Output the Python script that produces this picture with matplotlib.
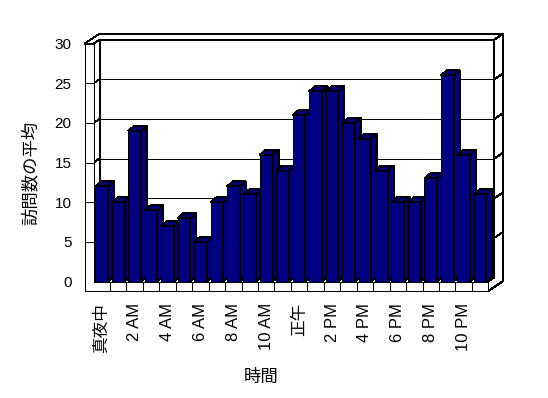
import numpy as np
import matplotlib
matplotlib.use("Agg")
import matplotlib.pyplot as plt
from matplotlib.patches import Polygon

plt.rcParams['font.family'] = ['Liberation Sans', 'Noto Sans CJK JP']

# data: average visits per hour
hours = ["真夜中", "1 AM", "2 AM", "3 AM", "4 AM", "5 AM", "6 AM", "7 AM",
         "8 AM", "9 AM", "10 AM", "11 AM", "正午", "1 PM", "2 PM", "3 PM",
         "4 PM", "5 PM", "6 PM", "7 PM", "8 PM", "9 PM", "10 PM", "11 PM"]
visits = [12, 10, 19, 9, 7, 8, 5, 10, 12, 11, 16, 14,
          21, 24, 24, 20, 18, 14, 10, 10, 13, 26, 16, 11]
y_ticks = [0, 5, 10, 15, 20, 25, 30]
y_title = "訪問数の平均"
x_title = "時間"

W, H = 548, 398
NAVY = "#000080"
LW = 0.72  # one pixel at 100 dpi

fig = plt.figure(figsize=(W / 100, H / 100), dpi=100)
fig.patch.set_facecolor("white")

# front plane of the 3d box, in pixels
x0, x1 = 93.5, 488.3
yb, yt = 281.5, 43.7
ax = fig.add_axes([x0 / W, (H - yb) / H, (x1 - x0) / W, (yb - yt) / H])
n = len(visits)
ax.set_xlim(-0.5, n - 0.5)
ax.set_ylim(0, 30)
for s in ax.spines.values():
    s.set_visible(False)
ax.set_facecolor("none")

# pixel -> data unit
ux = n / (x1 - x0)
uy = 30 / (yb - yt)
L, R = -0.5, n - 0.5
lw_wall = 9 * ux          # left wall thickness
ft = 9.5 * uy             # floor thickness


def P(x, y, z=0.0):
    # oblique projection, z=1 is the back wall inner face
    return (x + z * 6 * ux, y + z * 4 * uy)


def poly(pts, zo, fc="white"):
    ax.add_patch(Polygon(pts, closed=True, facecolor=fc, edgecolor="black",
                         linewidth=LW, clip_on=False, zorder=zo,
                         antialiased=False))


def line(a, b, zo):
    ax.plot([a[0], b[0]], [a[1], b[1]], color="black", lw=LW,
            clip_on=False, zorder=zo, antialiased=False)


Z2 = 2.4
# back wall inner face
poly([P(L, 0, 1), P(R, 0, 1), P(R, 30, 1), P(L, 30, 1)], 1)
# right side strip of back wall + floor side
poly([P(R, -ft, 0), P(R, 0, 0), P(R, 0, 1), P(R, 30, 1), P(R, 30, Z2),
      P(R, -ft, Z2)], 1)
# left wall inner face
poly([P(L, 0, 0), P(L, 30, 0), P(L, 30, 1), P(L, 0, 1)], 1)
# top face of walls
poly([P(L - lw_wall, 30, 0), P(L, 30, 0), P(L, 30, 1), P(R, 30, 1),
      P(R, 30, Z2), P(L - lw_wall, 30, Z2)], 1)

# gridlines wrapping round the walls
for v in y_ticks[1:-1]:
    line(P(L, v, 0), P(L, v, 1), 2)
    line(P(L, v, 1), P(R, v, 1), 2)
    line(P(R, v, 1), P(R, v, Z2), 2)

# bars
xs = np.arange(n)
bw = 0.77
bdx, bdy = 6 * ux, 5 * uy
bars = ax.bar(xs, visits, width=bw, color=NAVY, edgecolor="black",
              linewidth=LW, zorder=5)
for i, (b, v) in enumerate(zip(bars, visits)):
    b.set_zorder(10 + 2 * i)
    b.set_antialiased(False)
    l, r = i - bw / 2, i + bw / 2
    poly([(r, 0), (r, v), (r + bdx, v + bdy), (r + bdx, bdy)],
         11 + 2 * i, NAVY)
    poly([(l, v), (r, v), (r + bdx, v + bdy), (l + bdx, v + bdy)],
         11 + 2 * i, NAVY)

# front faces: left wall + floor (L-shape)
poly([(L - lw_wall, -ft), (R, -ft), (R, 0), (L, 0), (L, 30),
      (L - lw_wall, 30)], 100)
for v in y_ticks[1:-1]:
    line((L - lw_wall, v), (L, v), 101)
for k in range(1, n):
    line((k - 0.5, -ft), (k - 0.5, 0), 101)

# tick labels
ax.set_yticks(y_ticks)
ax.set_yticklabels([str(v) for v in y_ticks], fontsize=11)
ax.set_xticks(xs[::2])
ax.set_xticklabels(hours[::2], rotation=90, fontsize=12)
ax.tick_params(axis="y", length=0, pad=15.7)
ax.tick_params(axis="x", length=0, pad=15.5)

fig.text(30 / W, 1 - 173 / H, y_title, rotation=90, ha="center",
         va="center", fontsize=12.5)
fig.text(261 / W, 1 - 377 / H, x_title, ha="center", va="center",
         fontsize=12.5)

fig.savefig("out.png", dpi=100, facecolor="white")
